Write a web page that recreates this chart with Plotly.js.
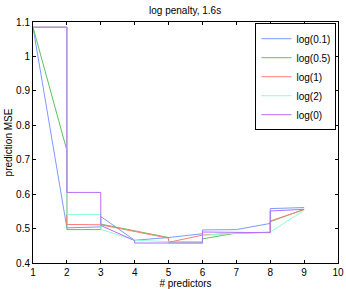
<!DOCTYPE html>
<html>
<head>
<meta charset="utf-8">
<script src="https://cdn.plot.ly/plotly-3.0.1.min.js"></script>
<style>html,body{margin:0;padding:0;background:#fff;}#chart{width:346px;height:289px;}</style>
</head>
<body>
<div id="chart"></div>
<script>
// series names
const seriesNames = ["log(0.1)", "log(0.5)", "log(1)", "log(2)", "log(0)"];

// log(0.1)
const x_log01 = [1, 2, 3, 3, 4, 5, 6, 6, 7, 8, 8, 9];
const y_log01 = [1.085, 0.502, 0.505, 0.535, 0.466, 0.474, 0.485, 0.496, 0.497, 0.515, 0.558, 0.561];

// log(0.5)
const x_log05 = [1, 2, 2, 3, 3, 5, 5, 6, 6, 7, 8, 8, 9];
const y_log05 = [1.085, 0.727, 0.497, 0.497, 0.513, 0.474, 0.461, 0.461, 0.470, 0.487, 0.489, 0.520, 0.556];

// log(1)
const x_log1 = [1, 2, 2, 3, 5, 5, 6, 7, 8, 8, 9];
const y_log1 = [1.085, 1.085, 0.512, 0.511, 0.472, 0.460, 0.481, 0.487, 0.489, 0.522, 0.555];

// log(2)
const x_log2 = [1, 2, 2, 3, 3, 4, 5, 5, 6, 6, 7, 8, 9];
const y_log2 = [1.085, 1.085, 0.541, 0.541, 0.498, 0.466, 0.462, 0.458, 0.457, 0.480, 0.487, 0.490, 0.553];

// log(0)
const x_log0 = [1, 2, 2, 3, 3, 4, 4, 6, 6, 8, 8, 9];
const y_log0 = [1.085, 1.085, 0.605, 0.605, 0.509, 0.465, 0.458, 0.458, 0.490, 0.488, 0.551, 0.556];

const xTicks = [1, 2, 3, 4, 5, 6, 7, 8, 9, 10];
const yTicks = [0.4, 0.5, 0.6, 0.7, 0.8, 0.9, 1, 1.1];

const colors = ["#7f98ff", "#5cc35c", "#ff7a7a", "#8fffd6", "#b46ef5"];
const xs = [x_log01, x_log05, x_log1, x_log2, x_log0];
const ys = [y_log01, y_log05, y_log1, y_log2, y_log0];

const traces = seriesNames.map((n, i) => ({
  type: "scatter", mode: "lines", name: n,
  x: xs[i], y: ys[i],
  line: {color: colors[i], width: 1}
}));

const fnt = {family: "Liberation Sans, Arial, sans-serif", size: 10, color: "#000"};
const axisCommon = {
  showgrid: false, zeroline: false, showline: true, linecolor: "#000", linewidth: 1,
  mirror: "allticks", ticks: "inside", ticklen: 3, tickcolor: "#000", tickwidth: 1,
  tickfont: fnt
};

const layout = {
  width: 346, height: 289,
  margin: {l: 33, r: 8, t: 22, b: 26},
  paper_bgcolor: "#fff", plot_bgcolor: "#fff",
  font: fnt,
  title: {text: "log penalty, 1.6s", font: fnt, x: 0.535, xanchor: "center", y: 0.965, yanchor: "middle"},
  xaxis: Object.assign({}, axisCommon, {
    range: [1, 10], tickvals: xTicks, ticktext: xTicks.map(String),
    title: {text: "# predictors", font: fnt, standoff: 5}
  }),
  yaxis: Object.assign({}, axisCommon, {
    range: [0.4, 1.1], tickvals: yTicks, ticktext: yTicks.map(String),
    title: {text: "prediction MSE", font: fnt, standoff: 1}
  }),
  showlegend: true,
  legend: {
    x: 0.995, xanchor: "right", y: 0.995, yanchor: "top",
    bgcolor: "#fff", bordercolor: "#000", borderwidth: 1,
    font: {family: "Liberation Sans, Arial, sans-serif", size: 10, color: "#000"},
    itemwidth: 30, tracegroupgap: 0
  }
};

Plotly.newPlot("chart", traces, layout, {staticPlot: true, displayModeBar: false});
</script>
</body>
</html>
